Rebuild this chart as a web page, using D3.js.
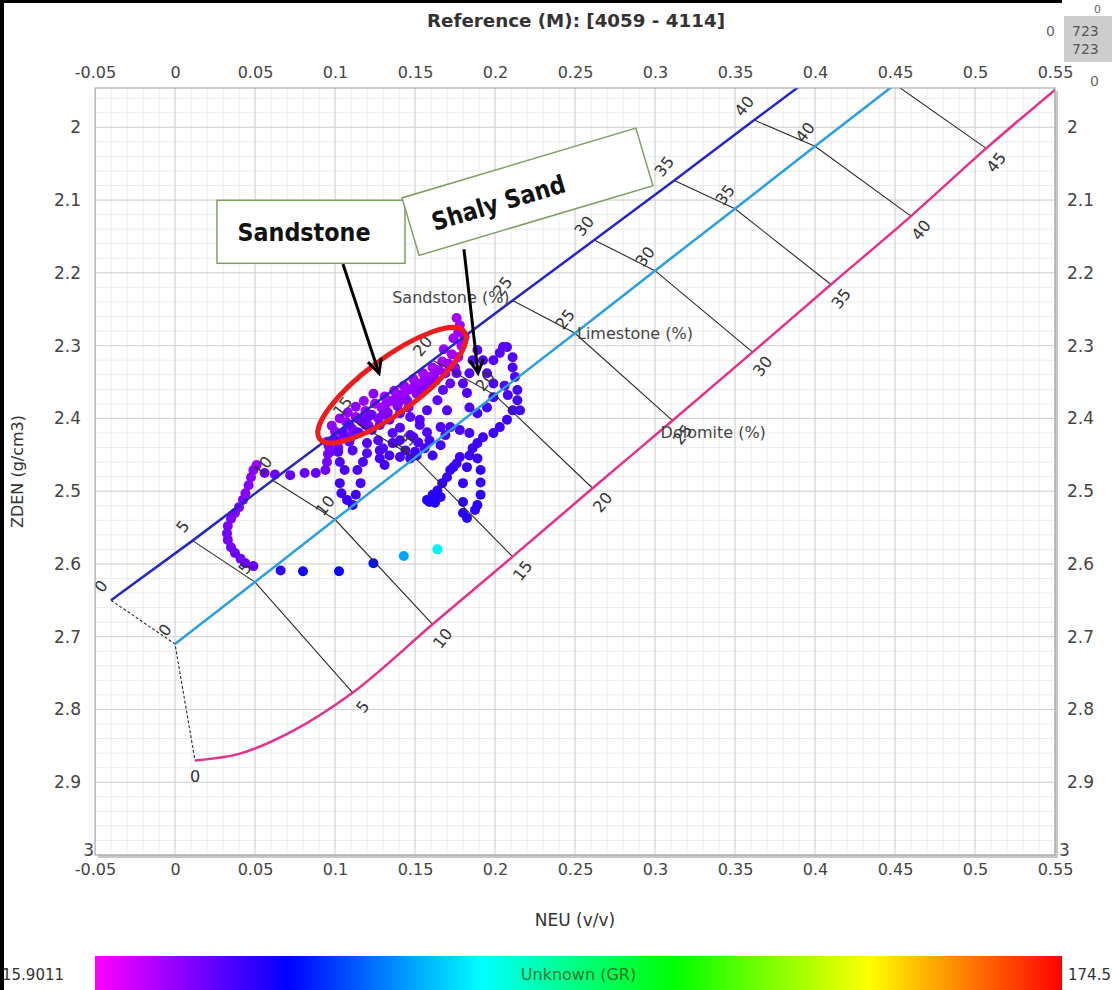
<!DOCTYPE html>
<html>
<head>
<meta charset="utf-8">
<script src="https://cdn.jsdelivr.net/npm/d3@7"></script>
<style>
  body { margin: 0; background: #fff; }
  text { font-family: "DejaVu Sans", Verdana, sans-serif; }
</style>
</head>
<body>
<svg id="chart" width="1112" height="990"></svg>
<script>
// axis ticks
const xTicks = [-0.05, 0, 0.05, 0.1, 0.15, 0.2, 0.25, 0.3, 0.35, 0.4, 0.45, 0.5, 0.55];
const yTicks = [2, 2.1, 2.2, 2.3, 2.4, 2.5, 2.6, 2.7, 2.8, 2.9, 3];

// porosity scale of the chart (%)
const porosity = [0, 5, 10, 15, 20, 25, 30, 35, 40, 45];
// lithology lines (NEU v/v, ZDEN g/cm3) at each porosity
const sandNeu = [-0.040, 0.011, 0.061, 0.111, 0.161, 0.211, 0.262, 0.312, 0.362, 0.412];
const sandDen = [2.650, 2.568, 2.485, 2.403, 2.320, 2.238, 2.155, 2.073, 1.990, 1.908];
const limeNeu = [0, 0.05, 0.10, 0.15, 0.20, 0.25, 0.30, 0.35, 0.40, 0.45];
const limeDen = [2.710, 2.625, 2.539, 2.454, 2.368, 2.283, 2.197, 2.112, 2.026, 1.941];
const dolNeu = [0.0125, 0.111, 0.161, 0.211, 0.261, 0.311, 0.361, 0.410, 0.460, 0.507];
const dolDen = [2.870, 2.777, 2.683, 2.590, 2.496, 2.403, 2.309, 2.216, 2.122, 2.029];
// extra points on the dolomite curve (low porosity bend, and run-out past 45)
const dolBend = [[0.040, 2.861], [0.074, 2.829]];
const dolTail = [[0.560, 1.930]];

// GR colour bar
const grRange = [15.9011, 174.5];
const rampColors = ["#ff00ff", "#0000ff", "#00ffff", "#00ff00", "#ffff00", "#ff0000"];

// log points: [NEU, ZDEN, GR]
const sandBand = [
  [0.095,2.432,30],[0.097,2.446,32],[0.100,2.418,29],[0.102,2.440,33],[0.105,2.425,30],
  [0.107,2.405,28],[0.109,2.432,34],[0.111,2.415,30],[0.113,2.398,28],[0.115,2.420,31],
  [0.117,2.405,29],[0.119,2.390,27],[0.121,2.410,31],[0.123,2.395,29],[0.125,2.380,27],
  [0.127,2.400,30],[0.129,2.385,28],[0.131,2.370,27],[0.133,2.392,31],[0.135,2.376,29],
  [0.137,2.362,27],[0.139,2.383,30],[0.141,2.368,28],[0.143,2.355,27],[0.145,2.375,31],
  [0.147,2.360,28],[0.149,2.346,27],[0.151,2.366,30],[0.153,2.352,28],[0.155,2.338,27],
  [0.157,2.357,30],[0.159,2.343,28],[0.161,2.330,27],[0.163,2.348,30],[0.165,2.334,28],
  [0.167,2.322,27],[0.169,2.338,29],[0.171,2.325,28],[0.173,2.312,27],[0.175,2.330,30],
  [0.177,2.316,28],[0.179,2.300,27],[0.176,2.262,27],[0.178,2.272,27],[0.177,2.282,28],
  [0.174,2.290,28],[0.181,2.288,28],[0.168,2.305,29],[0.098,2.410,30],[0.103,2.400,29],
  [0.108,2.392,29],[0.113,2.384,30],[0.118,2.376,29],[0.124,2.366,30],[0.132,2.380,28],
  [0.138,2.372,29],[0.144,2.364,28],[0.150,2.355,29],[0.156,2.347,28],[0.162,2.340,29],
  [0.110,2.425,31],[0.120,2.400,30],[0.130,2.395,31],[0.140,2.378,30],[0.146,2.385,32],
  [0.154,2.362,31],[0.160,2.352,30]
];
const leftBranch = [
  [0.049,2.471,30],[0.051,2.464,29],[0.0475,2.481,30],[0.046,2.492,31],[0.044,2.503,31],
  [0.0425,2.512,31],[0.040,2.522,32],[0.0375,2.530,32],[0.035,2.538,32],[0.033,2.548,32],
  [0.0325,2.558,33],[0.033,2.567,33],[0.035,2.577,33],[0.0375,2.585,34],[0.041,2.593,34],
  [0.044,2.599,34],[0.049,2.603,35]
];
const upperRow = [
  [0.056,2.475,34],[0.0625,2.477,34],[0.072,2.478,35],[0.081,2.475,35],[0.088,2.475,35],
  [0.094,2.471,34],[0.095,2.460,33],[0.0956,2.449,33],[0.096,2.438,32]
];
const lowRow = [
  [0.066,2.609,42],[0.080,2.610,45],[0.1025,2.610,46],[0.124,2.599,50],[0.143,2.589,68],[0.164,2.580,78]
];
const midCloud = [
  [0.100,2.430,36],[0.102,2.446,37],[0.103,2.460,38],[0.106,2.471,38],[0.103,2.489,39],
  [0.104,2.503,40],[0.1075,2.512,40],[0.111,2.519,41],[0.113,2.505,40],[0.116,2.489,39],
  [0.114,2.471,38],[0.1175,2.460,38],[0.120,2.448,37],[0.111,2.444,37],[0.109,2.430,36],
  [0.114,2.419,36],[0.119,2.409,35],[0.123,2.416,36],[0.127,2.430,37],[0.130,2.441,38],
  [0.128,2.455,39],[0.131,2.464,40],[0.134,2.451,39],[0.136,2.434,38],[0.1406,2.430,38],
  [0.144,2.444,39],[0.147,2.455,40],[0.150,2.446,39],[0.152,2.433,38],[0.147,2.423,37],
  [0.1406,2.413,37],[0.136,2.420,37],[0.149,2.426,38],[0.153,2.409,37],[0.1575,2.419,38],
  [0.159,2.430,39],[0.156,2.441,39],[0.161,2.451,40],[0.166,2.437,39],[0.169,2.423,38],
  [0.166,2.412,38],[0.172,2.412,38],[0.178,2.416,39],[0.184,2.420,39],[0.170,2.389,37],
  [0.164,2.375,36],[0.1675,2.361,36],[0.172,2.352,35],[0.176,2.338,35],[0.1575,2.389,37],
  [0.153,2.402,37],[0.147,2.398,36],[0.1406,2.393,36],[0.134,2.402,36],[0.128,2.409,36],
  [0.122,2.396,35],[0.116,2.402,35],[0.109,2.409,35],[0.105,2.419,36],[0.120,2.434,37],
  [0.128,2.444,38],[0.1406,2.453,39],[0.151,2.451,40]
];
const shalyLoop = [
  [0.2075,2.302,37],[0.211,2.316,37],[0.211,2.330,38],[0.2125,2.343,38],[0.214,2.361,39],
  [0.214,2.375,39],[0.211,2.389,39],[0.2075,2.402,40],[0.203,2.412,40],[0.199,2.420,40],
  [0.1925,2.320,37],[0.195,2.338,38],[0.199,2.352,38],[0.199,2.371,39],[0.195,2.385,39],
  [0.189,2.393,39],[0.184,2.385,38],[0.1825,2.365,38],[0.180,2.352,37],[0.184,2.338,37],
  [0.199,2.320,37],[0.203,2.310,37],[0.205,2.302,36],[0.189,2.306,36],[0.186,2.320,37],
  [0.206,2.355,38],[0.208,2.368,39],[0.2156,2.389,40]
];
const lowerColumn = [
  [0.178,2.453,40],[0.176,2.462,40],[0.1825,2.467,41],[0.189,2.455,40],[0.191,2.471,41],
  [0.191,2.488,41],[0.191,2.505,42],[0.189,2.519,42],[0.1875,2.526,42],[0.1825,2.537,43],
  [0.180,2.530,43],[0.180,2.515,42],[0.180,2.489,41],[0.184,2.451,40],[0.186,2.441,40],
  [0.189,2.434,40],[0.1925,2.426,40],[0.159,2.515,43],[0.161,2.505,43],[0.164,2.499,42],
  [0.167,2.489,42],[0.170,2.481,41],[0.172,2.471,41],[0.174,2.467,41],[0.1575,2.512,43],
  [0.1625,2.516,44],[0.166,2.508,43]
];

// callouts (data position of centre / arrow ends)
const calloutText = ["Sandstone", "Shaly Sand"];
const calloutAt = [[0.085, 2.1436], [0.2203, 2.0886]];
const arrowFrom = [[0.105, 2.188], [0.1806, 2.1676]];
const arrowTo = [[0.1275, 2.338], [0.1894, 2.338]];
const ringAt = [0.1356, 2.3544];

const svg = d3.select("#chart");
const H = 990;

const x = d3.scaleLinear().domain([-0.05, 0.55]).range([95, 1055]);
const y = d3.scaleLinear().domain([1.946, 3]).range([88, 855]);
const [x0, x1] = x.range(), [y0, y1] = y.range();

// outer frame bits (left / top black edge of the screenshot)
svg.append("rect").attr("x", 0).attr("y", 0).attr("width", 4).attr("height", H).attr("fill", "#000");
svg.append("rect").attr("x", 0).attr("y", 0).attr("width", 1062).attr("height", 3).attr("fill", "#000");

// title
svg.append("text").attr("x", 576).attr("y", 27).attr("text-anchor", "middle")
  .attr("font-size", 17).attr("font-weight", "bold").attr("fill", "#333")
  .attr("textLength", 298).attr("lengthAdjust", "spacingAndGlyphs")
  .text("Reference (M): [4059 - 4114]");

// plot background + shadow
svg.append("rect").attr("x", x0 + 3).attr("y", y0 + 3).attr("width", x1 - x0).attr("height", y1 - y0)
  .attr("fill", "#c8c8c8");
svg.append("rect").attr("x", x0).attr("y", y0).attr("width", x1 - x0).attr("height", y1 - y0)
  .attr("fill", "#fff");

svg.append("clipPath").attr("id", "plotclip").append("rect")
  .attr("x", x0).attr("y", y0).attr("width", x1 - x0).attr("height", y1 - y0);

const plot = svg.append("g").attr("clip-path", "url(#plotclip)");

// grid
const minorX = x.ticks(60), minorY = y.ticks(50);
plot.selectAll(".gxm").data(minorX).join("line")
  .attr("x1", d => x(d)).attr("x2", d => x(d)).attr("y1", y0).attr("y2", y1)
  .attr("stroke", "#ececec");
plot.selectAll(".gym").data(minorY).join("line")
  .attr("y1", d => y(d)).attr("y2", d => y(d)).attr("x1", x0).attr("x2", x1)
  .attr("stroke", "#ececec");
plot.selectAll(".gx").data(xTicks).join("line")
  .attr("x1", d => x(d)).attr("x2", d => x(d)).attr("y1", y0).attr("y2", y1)
  .attr("stroke", "#d2d2d2");
plot.selectAll(".gy").data(yTicks).join("line")
  .attr("y1", d => y(d)).attr("y2", d => y(d)).attr("x1", x0).attr("x2", x1)
  .attr("stroke", "#d2d2d2");

// colour scale
const grStops = rampColors.map((c, i) => grRange[0] + i / (rampColors.length - 1) * (grRange[1] - grRange[0]));
const color = d3.scaleLinear().domain(grStops).range(rampColors).clamp(true);

// points
const allPoints = [].concat(sandBand, leftBranch, upperRow, lowRow, midCloud, shalyLoop, lowerColumn);
plot.append("g").selectAll("circle").data(allPoints).join("circle")
  .attr("cx", d => x(d[0])).attr("cy", d => y(d[1])).attr("r", 5)
  .attr("fill", d => color(d[2]));

// lithology lines
const sandPts = porosity.map((p, i) => [sandNeu[i], sandDen[i]]);
const limePts = porosity.map((p, i) => [limeNeu[i], limeDen[i]]);
const dolPts = porosity.map((p, i) => [dolNeu[i], dolDen[i]]);
const line = d3.line().x(d => x(d[0])).y(d => y(d[1]));

// iso-porosity connectors
porosity.forEach((p, i) => {
  plot.append("path")
    .attr("d", line([sandPts[i], limePts[i], dolPts[i]]))
    .attr("fill", "none").attr("stroke", "#2a2a2a").attr("stroke-width", 1.1)
    .attr("stroke-dasharray", p === 0 ? "3,2" : null);
});

plot.append("path").attr("d", line(sandPts)).attr("fill", "none")
  .attr("stroke", "#2626c8").attr("stroke-width", 2.5);
plot.append("path").attr("d", line(limePts)).attr("fill", "none")
  .attr("stroke", "#2b9fe6").attr("stroke-width", 2.5);
const dolCurve = [dolPts[0]].concat(dolBend, dolPts.slice(1), dolTail);
plot.append("path").attr("d", d3.line().x(d => x(d[0])).y(d => y(d[1])).curve(d3.curveMonotoneX)(dolCurve))
  .attr("fill", "none").attr("stroke", "#e6318a").attr("stroke-width", 2.5);

// porosity numbers
const rot = -52;
function numLabels(pts, dx, dy, skip) {
  plot.append("g").selectAll("text").data(pts.filter((d, i) => !skip(i)))
    .join("text")
    .attr("transform", d => `translate(${x(d[0]) + dx},${y(d[1]) + dy}) rotate(${rot})`)
    .attr("text-anchor", "middle").attr("dy", "0.35em")
    .attr("font-family", "Liberation Sans, Arial, sans-serif")
    .attr("font-size", 16).attr("fill", "#333")
    .text(d => d[2]);
}
numLabels(sandPts.map((d, i) => [d[0], d[1], porosity[i]]), -10, -14, i => i > 8);
numLabels(limePts.map((d, i) => [d[0], d[1], porosity[i]]), -10, -14, i => i > 8);
numLabels(dolPts.map((d, i) => [d[0], d[1], porosity[i]]), 10, 14, i => i === 0);
plot.append("text").attr("x", x(dolPts[0][0])).attr("y", y(dolPts[0][1]) + 22)
  .attr("text-anchor", "middle").attr("font-family", "Liberation Sans, Arial, sans-serif")
  .attr("font-size", 16).attr("fill", "#333").text(porosity[0]);

// lithology names
const nameStyle = s => s.attr("font-family", "Liberation Sans, Arial, sans-serif")
  .attr("font-size", 16).attr("fill", "#444");
plot.append("text").attr("x", x(sandNeu[5]) - 3).attr("y", y(sandDen[5]) + 3)
  .attr("text-anchor", "end").call(nameStyle).text("Sandstone (%)");
plot.append("text").attr("x", x(limeNeu[5]) + 2).attr("y", y(limeDen[5]) + 6)
  .call(nameStyle).text("Limestone (%)");
plot.append("text").attr("x", x(dolNeu[5]) - 12).attr("y", y(dolDen[5]) + 17)
  .call(nameStyle).text("Dolomite (%)");

// plot border
svg.append("rect").attr("x", x0).attr("y", y0).attr("width", x1 - x0).attr("height", y1 - y0)
  .attr("fill", "none").attr("stroke", "#a0a0a0");

// axes
const fmt = d => String(+d.toFixed(2));
function styleAxis(size) {
  return g => {
    g.select(".domain").remove();
    g.selectAll("text").attr("font-family", "DejaVu Sans, Verdana, sans-serif")
      .attr("font-size", size).attr("fill", "#444");
  };
}
svg.append("g").attr("transform", `translate(0,${y0})`)
  .call(d3.axisTop(x).tickValues(xTicks).tickFormat(fmt).tickSize(0).tickPadding(10)).call(styleAxis(16));
svg.append("g").attr("transform", `translate(0,${y1})`)
  .call(d3.axisBottom(x).tickValues(xTicks).tickFormat(fmt).tickSize(0).tickPadding(9)).call(styleAxis(16));
const yl = svg.append("g").attr("transform", `translate(${x0},0)`)
  .call(d3.axisLeft(y).tickValues(yTicks).tickFormat(fmt).tickSize(0).tickPadding(14)).call(styleAxis(17));
const yr = svg.append("g").attr("transform", `translate(${x1},0)`)
  .call(d3.axisRight(y).tickValues(yTicks).tickFormat(fmt).tickSize(0).tickPadding(12)).call(styleAxis(17));
yl.selectAll(".tick").filter(d => d === 3).select("text").attr("x", -1).attr("dy", "0.05em");
yr.selectAll(".tick").filter(d => d === 3).select("text").attr("x", 4).attr("dy", "0.05em");

// axis titles
svg.append("text").attr("transform", `translate(23,${(y0 + y1) / 2}) rotate(-90)`)
  .attr("text-anchor", "middle").attr("font-size", 16).attr("fill", "#333").text("ZDEN (g/cm3)");
svg.append("text").attr("x", (x0 + x1) / 2).attr("y", 926)
  .attr("text-anchor", "middle").attr("font-size", 17).attr("fill", "#333").text("NEU (v/v)");

// callouts
const ann = svg.append("g");
ann.append("ellipse")
  .attr("transform", `translate(${x(ringAt[0])},${y(ringAt[1])}) rotate(-36.5)`)
  .attr("rx", 90).attr("ry", 27).attr("fill", "none")
  .attr("stroke", "#ee1c1c").attr("stroke-width", 5);

const defs = svg.append("defs");
defs.append("marker").attr("id", "head").attr("markerUnits", "userSpaceOnUse")
  .attr("viewBox", "0 0 20 20").attr("markerWidth", 20).attr("markerHeight", 20)
  .attr("refX", 17).attr("refY", 10).attr("orient", "auto")
  .append("path").attr("d", "M3,3 L17,10 L3,17").attr("fill", "none")
  .attr("stroke", "#000").attr("stroke-width", 3);

arrowFrom.forEach((a, i) => {
  ann.append("line")
    .attr("x1", x(a[0])).attr("y1", y(a[1]))
    .attr("x2", x(arrowTo[i][0])).attr("y2", y(arrowTo[i][1]))
    .attr("stroke", "#000").attr("stroke-width", 3).attr("marker-end", "url(#head)");
});

const boxSize = [[188, 63], [244, 60]];
const boxAngle = [0, -16.6];
const textShift = [[-7, 9], [-31, 11]];
const textWidth = [133, 138];
calloutText.forEach((t, i) => {
  const g = ann.append("g")
    .attr("transform", `translate(${x(calloutAt[i][0])},${y(calloutAt[i][1])}) rotate(${boxAngle[i]})`);
  g.append("rect").attr("x", -boxSize[i][0] / 2).attr("y", -boxSize[i][1] / 2)
    .attr("width", boxSize[i][0]).attr("height", boxSize[i][1])
    .attr("fill", "#fff").attr("stroke", "#7f9f5f").attr("stroke-width", 1.5);
  g.append("text").attr("x", textShift[i][0]).attr("y", textShift[i][1])
    .attr("text-anchor", "middle").attr("font-family", "Lato, 'Open Sans', sans-serif")
    .attr("font-weight", 700).attr("font-size", 25).attr("fill", "#111")
    .attr("textLength", textWidth[i]).attr("lengthAdjust", "spacingAndGlyphs").text(t);
});

// colour bar
const grad = defs.append("linearGradient").attr("id", "ramp");
grad.selectAll("stop").data(rampColors).join("stop")
  .attr("offset", (d, i) => i / (rampColors.length - 1)).attr("stop-color", d => d);
svg.append("rect").attr("x", x0).attr("y", 956).attr("width", 1062 - x0).attr("height", 34)
  .attr("fill", "url(#ramp)");
svg.append("text").attr("x", 2).attr("y", 980).attr("font-size", 15).attr("fill", "#333")
  .text(grRange[0]);
svg.append("text").attr("x", 1068).attr("y", 980).attr("font-size", 15).attr("fill", "#333")
  .text(grRange[1]);
svg.append("text").attr("x", (x0 + 1062) / 2).attr("y", 980).attr("text-anchor", "middle")
  .attr("font-size", 16).attr("fill", "#2f7a2a").text("Unknown (GR)");

// top-right corner widget
svg.append("rect").attr("x", 1064).attr("y", 16).attr("width", 48).attr("height", 46).attr("fill", "#cdcdcd");
svg.append("text").attr("x", 1046).attr("y", 36).attr("font-size", 14).attr("fill", "#666").text("0");
svg.append("text").attr("x", 1072).attr("y", 36).attr("font-size", 14).attr("fill", "#555").text("723");
svg.append("text").attr("x", 1072).attr("y", 54).attr("font-size", 14).attr("fill", "#555").text("723");
svg.append("text").attr("x", 1090).attr("y", 86).attr("font-size", 14).attr("fill", "#666").text("0");
svg.append("text").attr("x", 1094).attr("y", 13).attr("font-size", 11).attr("fill", "#666").text("0");
</script>
</body>
</html>
